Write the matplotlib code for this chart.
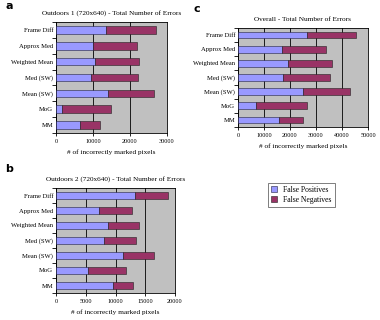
import matplotlib
matplotlib.use("Agg")
import matplotlib.pyplot as plt
import numpy as np

categories = ["Frame Diff", "Approx Med", "Weighted Mean", "Med (SW)", "Mean (SW)", "MoG", "MM"]

fp_a = [13500, 10100, 10500, 9500, 14100, 1600, 6500]
fn_a = [13500, 11700, 12000, 12600, 12300, 13200, 5400]

fp_b = [13300, 7300, 8800, 8000, 11300, 5300, 9600]
fn_b = [5500, 5500, 5200, 5400, 5200, 6400, 3400]

fp_c = [26700, 17100, 19100, 17500, 25100, 6800, 15900]
fn_c = [18600, 16800, 16900, 17700, 17800, 19700, 9000]

ticks_a = [0, 10000, 20000, 30000]
ticks_b = [0, 5000, 10000, 15000, 20000]
ticks_c = [0, 10000, 20000, 30000, 40000, 50000]

titles = ["Outdoors 1 (720x640) - Total Number of Errors",
          "Outdoors 2 (720x640) - Total Number of Errors",
          "Overall - Total Number of Errors"]
xlabel = "# of incorrectly marked pixels"
legend_labels = ["False Positives", "False Negatives"]

FP_COLOR = "#9999FF"
FN_COLOR = "#993366"
BG = "#C0C0C0"

plt.rcParams["font.family"] = ["Liberation Serif", "DejaVu Serif"]

W, H = 380, 320
fig = plt.figure(figsize=(W / 100, H / 100), dpi=100)


def px_axes(l, r, t, b):
    return fig.add_axes([l / W, 1 - b / H, (r - l) / W, (b - t) / H])


def draw(ax, fp, fn, ticks, title):
    y = np.arange(len(categories))[::-1]
    ax.barh(y, fp, height=0.48, color=FP_COLOR, edgecolor="#202040", linewidth=0.4, zorder=3,
            label=legend_labels[0])
    ax.barh(y, fn, left=fp, height=0.48, color=FN_COLOR, edgecolor="#202020", linewidth=0.4, zorder=3,
            label=legend_labels[1])
    ax.set_facecolor(BG)
    ax.set_xlim(ticks[0], ticks[-1])
    ax.set_ylim(-0.5, len(categories) - 0.5)
    ax.set_xticks(ticks)
    ax.set_xticklabels([str(t) for t in ticks], fontsize=4.5)
    ax.set_yticks(y)
    ax.set_yticklabels(categories, fontsize=4.8)
    ax.set_yticks(np.arange(len(categories) + 1) - 0.5, minor=True)
    ax.tick_params(axis="y", which="major", length=0, pad=2)
    ax.tick_params(axis="y", which="minor", length=3, width=0.6, direction="out")
    ax.tick_params(axis="x", length=2.5, width=0.6, direction="out", pad=1.5)
    ax.grid(axis="x", color="black", linewidth=0.6, zorder=1)
    for s in ax.spines.values():
        s.set_linewidth(0.6)
    ax.set_title(title, fontsize=5.2, pad=5)
    ax.set_xlabel(xlabel, fontsize=5.2, labelpad=4)


ax_a = px_axes(56, 167, 22, 133)
draw(ax_a, fp_a, fn_a, ticks_a, titles[0])
ax_b = px_axes(56, 175, 188, 293)
draw(ax_b, fp_b, fn_b, ticks_b, titles[1])
ax_c = px_axes(238, 368, 28, 127)
draw(ax_c, fp_c, fn_c, ticks_c, titles[2])

fig.text(5 / W, 1 - 9 / H, "a", fontsize=8, fontweight="bold", family="DejaVu Sans")
fig.text(5 / W, 1 - 172 / H, "b", fontsize=8, fontweight="bold", family="DejaVu Sans")
fig.text(193 / W, 1 - 12 / H, "c", fontsize=8, fontweight="bold", family="DejaVu Sans")

handles, labels = ax_c.get_legend_handles_labels()
leg = fig.legend(handles, labels, loc="upper left", bbox_to_anchor=(268 / W, 1 - 183 / H),
                 fontsize=5.5, frameon=True, fancybox=False, edgecolor="#444444",
                 handlelength=0.8, handleheight=0.8, borderpad=0.4, labelspacing=0.2,
                 handletextpad=0.8, borderaxespad=0)
leg.get_frame().set_linewidth(0.6)

fig.savefig("out.png", dpi=100)
